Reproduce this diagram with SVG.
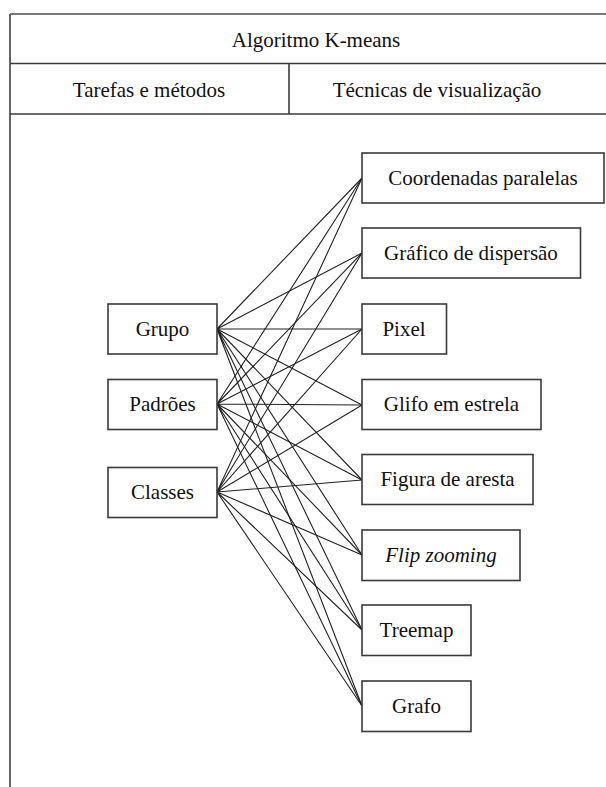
<svg xmlns="http://www.w3.org/2000/svg" width="606" height="787" viewBox="0 0 606 787">
  <style>
    .txt { font-family: "Liberation Serif", Tinos, "Times New Roman", "DejaVu Serif", "Noto Serif", serif; font-size: 21px; fill: #111; text-anchor: middle; }
    .box { fill: #fff; stroke: #3a3a3a; stroke-width: 1.6; }
    .grid { stroke: #3a3a3a; stroke-width: 1.6; fill: none; }
    .edge { stroke: #222; stroke-width: 1.1; fill: none; }
  </style>
  <rect width="606" height="787" fill="#fff"/>

  <!-- table frame -->
  <g id="table">
    <line class="grid" x1="10" y1="14" x2="606" y2="14" style="stroke:#777;stroke-width:2"/>
    <line class="grid" x1="10" y1="14" x2="10" y2="787" style="stroke:#666;stroke-width:2"/>
    <line class="grid" x1="10" y1="63.5" x2="606" y2="63.5"/>
    <line class="grid" x1="10" y1="114" x2="606" y2="114"/>
    <line class="grid" x1="289" y1="63.5" x2="289" y2="114"/>
    <text class="txt" x="316" y="47">Algoritmo K-means</text>
    <text class="txt" x="149" y="97">Tarefas e métodos</text>
    <text class="txt" x="437" y="97">Técnicas de visualização</text>
  </g>

  <!-- connectors: every task to every technique -->
  <g id="connectors">
    <path class="edge" d="M217 329L362 178M217 329L362 253M217 329L362 329M217 329L362 405M217 329L362 480M217 329L362 555M217 329L362 630M217 329L362 706"/>
    <path class="edge" d="M217 404L362 178M217 404L362 253M217 404L362 329M217 404L362 405M217 404L362 480M217 404L362 555M217 404L362 630M217 404L362 706"/>
    <path class="edge" d="M217 492L362 178M217 492L362 253M217 492L362 329M217 492L362 405M217 492L362 480M217 492L362 555M217 492L362 630M217 492L362 706"/>
  </g>

  <!-- left column -->
  <g id="grupo"><rect class="box" x="108" y="304" width="109" height="50"/><text class="txt" x="162.5" y="336">Grupo</text></g>
  <g id="padroes"><rect class="box" x="108" y="379.5" width="109" height="50"/><text class="txt" x="162.5" y="411">Padrões</text></g>
  <g id="classes"><rect class="box" x="108" y="467.5" width="109" height="50"/><text class="txt" x="162.5" y="499">Classes</text></g>

  <!-- right column -->
  <g id="coordenadas"><rect class="box" x="362" y="153" width="242" height="50"/><text class="txt" x="483" y="185">Coordenadas paralelas</text></g>
  <g id="dispersao"><rect class="box" x="362" y="228" width="218.5" height="50"/><text class="txt" x="471" y="260">Gráfico de dispersão</text></g>
  <g id="pixel"><rect class="box" x="362" y="304" width="84.5" height="50"/><text class="txt" x="404" y="336">Pixel</text></g>
  <g id="glifo"><rect class="box" x="362" y="379.5" width="179" height="50"/><text class="txt" x="451.5" y="411">Glifo em estrela</text></g>
  <g id="figura"><rect class="box" x="362" y="454.5" width="171" height="50"/><text class="txt" x="447.5" y="486">Figura de aresta</text></g>
  <g id="flip"><rect class="box" x="362" y="530" width="158" height="50.5"/><text class="txt" x="441" y="562" font-style="italic">Flip zooming</text></g>
  <g id="treemap"><rect class="box" x="362" y="605" width="109" height="50.5"/><text class="txt" x="416.5" y="637">Treemap</text></g>
  <g id="grafo"><rect class="box" x="362" y="681" width="109" height="50.5"/><text class="txt" x="416.5" y="713">Grafo</text></g>
</svg>
